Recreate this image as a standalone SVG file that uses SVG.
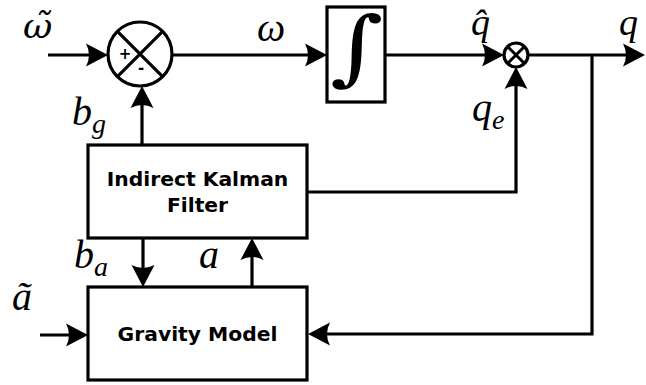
<svg xmlns="http://www.w3.org/2000/svg" width="646" height="385" viewBox="0 0 646 385">
<style>
.ln{fill:none;stroke:#000;stroke-width:3.2;marker-end:url(#ah)}
.bx{fill:#fff;stroke:#000;stroke-width:3.2}
.bt{font-family:"DejaVu Sans",sans-serif;font-weight:bold;font-size:20.3px;text-anchor:middle;fill:#000}
.m{font-family:"Liberation Serif",serif;font-style:italic;font-size:40px;fill:#000}
.s{font-size:28px}
.sg{font-family:"DejaVu Sans",sans-serif;font-weight:bold;font-size:15px;text-anchor:middle;fill:#000}
</style>
<defs>
<marker id="ah" markerUnits="userSpaceOnUse" markerWidth="40" markerHeight="40" viewBox="-20 -20 40 40" refX="0" refY="0" orient="auto" overflow="visible">
<path d="M10,0 L-12,-11.5 Q-6,0 -12,11.5 Z" fill="#000"/>
</marker>
</defs>
<g id="connectors">
<path class="ln" d="M48,55 H98"/>
<path class="ln" d="M172,55 H317"/>
<path class="ln" d="M385,55 H494"/>
<path class="ln" d="M528,55 H635"/>
<path class="ln" d="M592,55 V334 H318"/>
<path class="ln" d="M307,192 H516 V77"/>
<path class="ln" d="M142,145 V96"/>
<path class="ln" d="M143,238 V277"/>
<path class="ln" d="M252,287 V248"/>
<path class="ln" d="M40,335 H78"/>
</g>
<g id="sum">
<circle cx="140" cy="54" r="32" fill="#fff" stroke="#000" stroke-width="3.2"/>
<path d="M117.4,31.4 L162.6,76.6 M162.6,31.4 L117.4,76.6" stroke="#000" stroke-width="3.2"/>
<text class="sg" x="125" y="59">+</text>
<text class="sg" x="141" y="73">-</text>
</g>
<g id="integrator">
<rect class="bx" x="327" y="7" width="58" height="95" stroke-width="2.6"/>
<text transform="translate(357,75) scale(1.25,1)" x="0" y="0" font-family="DejaVu Serif,serif" font-size="82" text-anchor="middle">∫</text>
</g>
<g id="product">
<circle cx="516" cy="55" r="12" fill="#fff" stroke="#000" stroke-width="3.2"/>
<path d="M507.5,46.5 L524.5,63.5 M524.5,46.5 L507.5,63.5" stroke="#000" stroke-width="3"/>
</g>
<g id="kalman">
<rect class="bx" x="88" y="145" width="219" height="93"/>
<text class="bt" x="197.5" y="186">Indirect Kalman</text>
<text class="bt" x="197.5" y="212">Filter</text>
</g>
<g id="gravity">
<rect class="bx" x="88" y="287" width="219" height="93"/>
<text class="bt" x="197.5" y="341">Gravity Model</text>
</g>
<g id="labels">
<text class="m" x="23" y="38" style="font-family:'DejaVu Serif',serif;font-size:36px">ω̃</text>
<text class="m" x="257" y="41">ω</text>
<text class="m" x="471" y="35" style="font-size:38px">q̂</text>
<text class="m" x="619" y="35" style="font-size:38px">q</text>
<text class="m" x="472" y="121">q<tspan class="s" dy="8">e</tspan></text>
<text class="m" x="72" y="125">b<tspan class="s" dy="8">g</tspan></text>
<text class="m" x="74" y="268">b<tspan class="s" dy="8">a</tspan></text>
<text class="m" x="199" y="268">a</text>
<text class="m" x="12" y="310">ã</text>
</g>
</svg>
